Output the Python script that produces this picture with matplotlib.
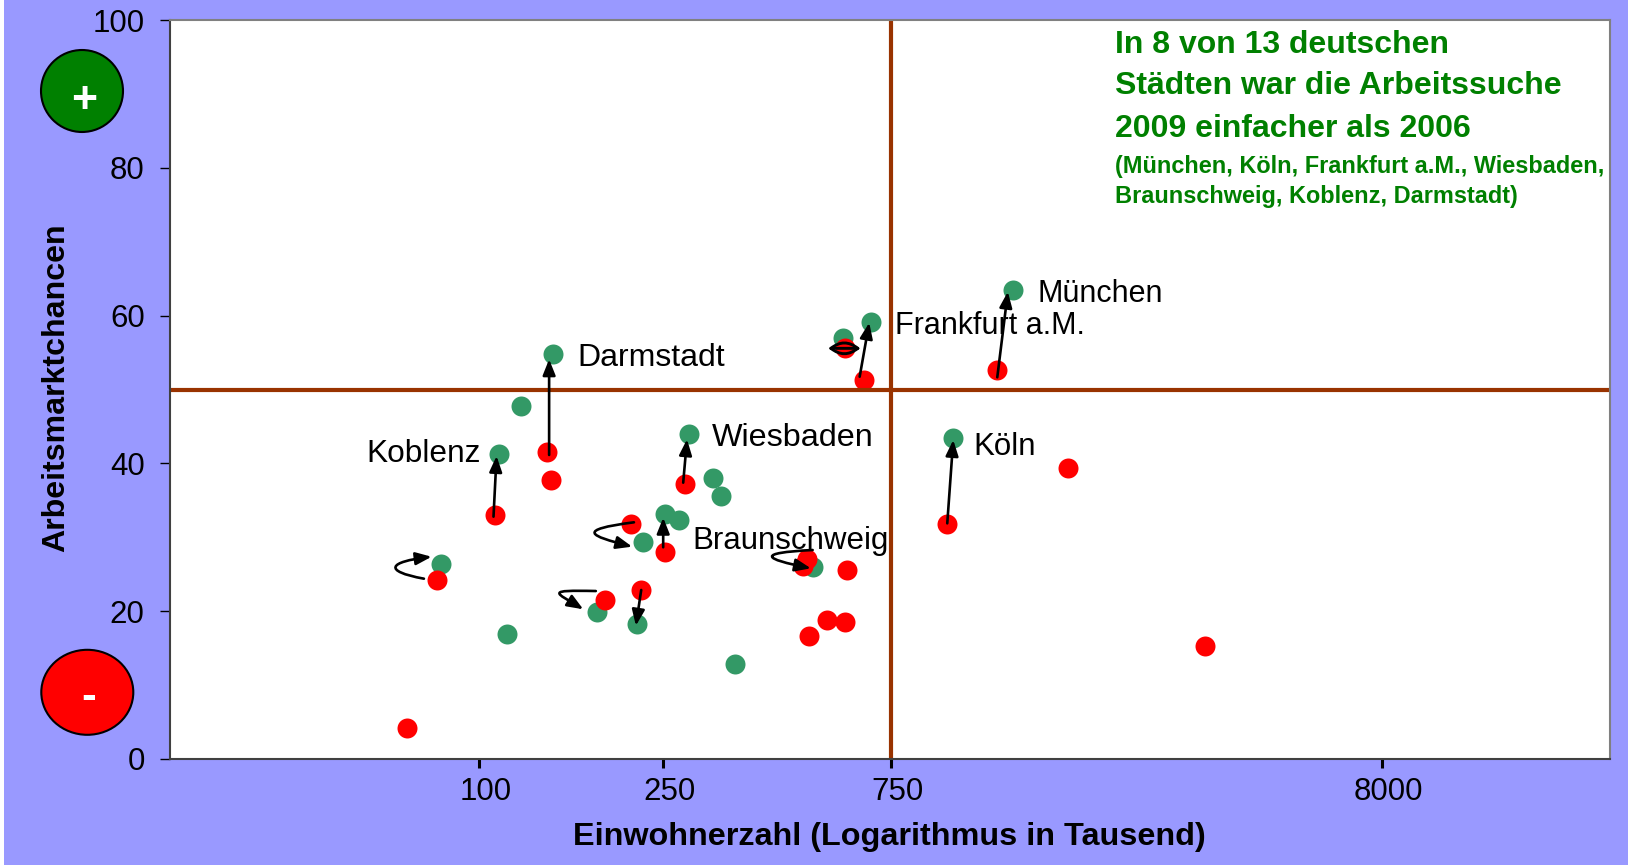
import matplotlib
matplotlib.use('Agg')
import matplotlib.pyplot as plt
from matplotlib.patches import Ellipse, Rectangle, FancyArrowPatch
from matplotlib.path import Path
from matplotlib.ticker import NullFormatter
from matplotlib.transforms import IdentityTransform, ScaledTranslation

plt.rcParams['font.family'] = ['Liberation Sans', 'DejaVu Sans']

# Einwohner in Tausend / Arbeitsmarktchancen
green_x = [143.1, 122.5, 110.1, 277, 311.2, 323.6, 246.1, 263.9, 221.5, 83.1,
           176.9, 214.8, 114.4, 346.3, 1335.5, 670.2, 584.9, 997.9, 505.8]
green_y = [54.76, 47.73, 41.23, 43.94, 37.98, 35.55, 33.11, 32.3, 29.32, 26.35,
           19.85, 18.23, 16.87, 12.81, 63.42, 59.09, 56.93, 43.4, 26.02]
red_x = [139, 141.7, 108, 271.6, 209, 246.5, 81.5, 184.2, 219.4, 70.4, 590.6,
         645.9, 1235.8, 969.4, 1740, 491.2, 481.8, 595.7, 541.2, 590.6, 496.1, 3396]
red_y = [41.5, 37.71, 33.06, 37.17, 31.76, 27.97, 24.18, 21.47, 22.83, 4.15, 55.57,
         51.24, 52.6, 31.76, 39.34, 27.06, 26.08, 25.53, 18.77, 18.5, 16.6, 15.29]

# Pfeile 2006 -> 2009
arrow_x0 = [107.1, 140.3, 269, 244.1, 219.4, 633.6, 1235.8, 969.4]
arrow_y0 = [32.79, 41.14, 37.39, 28.65, 22.87, 51.73, 51.65, 31.89]
arrow_x1 = [108.7, 140.3, 274, 244.1, 213.8, 663.7, 1301, 997.9]
arrow_y1 = [41.0, 54.09, 43.26, 32.65, 18.04, 59.04, 63.23, 43.17]

# gebogene Pfeile: Start, zwei Kontrollpunkte, Ende
curve_x0 = [76.4, 211.8, 176, 504.3]
curve_y0 = [24.4, 32.03, 22.73, 28.28]
curve_c1x = [62.3, 159, 137.4, 381]
curve_c1y = [25.44, 30.99, 22.87, 27.88]
curve_c2x = [64.5, 171, 144.3, 398]
curve_c2y = [26.7, 30.2, 22.6, 27.09]
curve_x1 = [79.3, 210, 165.6, 500]
curve_y1 = [27.37, 28.73, 20.26, 25.8]

lens_x = [628, 551]
lens_y = [55.57, 55.57]

x_ticks = [100, 244.1, 738.7, 8000]
x_tick_labels = ['100', '250', '750', '8000']
y_ticks = [0, 20, 40, 60, 80, 100]

W, H = 1628, 865


def fx(x):
    return x / W


def fy(y):
    return 1 - y / H


fig = plt.figure(figsize=(W / 100, H / 100), dpi=100, facecolor='#9999FF')
fig.add_artist(Rectangle((0, 0), 4, H, transform=IdentityTransform(), fc='white', ec='none'))

ax = fig.add_axes([fx(170), fy(759), (1610 - 170) / W, (759 - 20) / H])
ax.set_xscale('log')
ax.set_xlim(22.27, 24200)
ax.set_ylim(0, 100)

ax.scatter(green_x, green_y, s=207, c='#339966', linewidths=0, zorder=1)
ax.scatter(red_x, red_y, s=207, c='#FF0000', linewidths=0, zorder=1.1)

ax.axhline(50, color='#993300', lw=3, zorder=2)
ax.axvline(x_ticks[2], color='#993300', lw=3, zorder=2)

head = '-|>,head_length=0.95,head_width=0.38'
for x0, y0, x1, y1 in zip(arrow_x0, arrow_y0, arrow_x1, arrow_y1):
    ax.annotate('', xy=(x1, y1), xytext=(x0, y0), zorder=5,
                arrowprops=dict(arrowstyle=head, color='black', lw=1.9, mutation_scale=10,
                                shrinkA=0, shrinkB=0))
for i in range(len(curve_x0)):
    p = Path([(curve_x0[i], curve_y0[i]), (curve_c1x[i], curve_c1y[i]),
              (curve_c2x[i], curve_c2y[i]), (curve_x1[i], curve_y1[i])],
             [Path.MOVETO, Path.CURVE4, Path.CURVE4, Path.CURVE4])
    ax.add_patch(FancyArrowPatch(path=p, arrowstyle=head, color='black', lw=1.9,
                                 mutation_scale=10, zorder=5, transform=ax.transData))
# kleine Raute bei der Stadt ohne Veraenderung
for rad in [0.4, -0.4, 0]:
    ax.annotate('', xy=(lens_x[1], lens_y[1]), xytext=(lens_x[0], lens_y[0]), zorder=5,
                arrowprops=dict(arrowstyle='-', color='black', lw=2.1,
                                shrinkA=0, shrinkB=0, connectionstyle='arc3,rad=%s' % rad))

ax.set_xticks(x_ticks)
ax.set_xticklabels(x_tick_labels, fontsize=22.5)
ax.set_xticks(x_ticks, minor=True)
ax.xaxis.set_minor_formatter(NullFormatter())
ax.set_yticks(y_ticks)
ax.tick_params(axis='y', labelsize=22.5, length=7.2, width=1, pad=11, color='black')
ax.tick_params(axis='x', which='major', direction='out', length=6.5, width=2.2, pad=6.8, color='black')
ax.tick_params(axis='x', which='minor', direction='in', length=2.2, width=2.2, color='black')
for lab in ax.get_xticklabels():
    lab.set_transform(lab.get_transform() + ScaledTranslation(6 / 100, 0, fig.dpi_scale_trans))

ax.spines['left'].set_color('#404040')
ax.spines['bottom'].set_color('#404040')
ax.spines['top'].set_color('#808080')
ax.spines['right'].set_color('#808080')
for s in ax.spines.values():
    s.set_linewidth(1.5)

fig.text(fx(889), fy(845), 'Einwohnerzahl (Logarithmus in Tausend)', fontsize=23.3,
         fontweight='bold', ha='center', va='baseline')
fig.text(fx(56), fy(388), 'Arbeitsmarktchancen', fontsize=23.1, fontweight='bold',
         rotation=90, ha='center', va='center')

for name, x, y, size in [('Darmstadt', 577, 354, 23), ('Koblenz', 366, 451, 22.8),
                         ('Wiesbaden', 712, 435, 23.3), ('Braunschweig', 692, 537, 22.5),
                         ('Köln', 973, 444, 22.5), ('München', 1037, 291, 22),
                         ('Frankfurt a.M.', 895, 323, 22)]:
    fig.text(fx(x), fy(y), name, fontsize=size, ha='left', va='center_baseline', zorder=4)

for txt, base, size in [('In 8 von 13 deutschen', 53, 23),
                        ('Städten war die Arbeitssuche', 94, 23),
                        ('2009 einfacher als 2006', 137, 23),
                        ('(München, Köln, Frankfurt a.M., Wiesbaden,', 173, 16.9),
                        ('Braunschweig, Koblenz, Darmstadt)', 203, 16.9)]:
    fig.text(fx(1115), fy(base), txt, fontsize=size, fontweight='bold', color='#008000',
             ha='left', va='baseline')

fig.add_artist(Ellipse((82, H - 91), 82, 82, transform=IdentityTransform(),
                       fc='#008000', ec='black', lw=1.5))
fig.add_artist(Ellipse((87.3, H - 692.3), 92, 85, transform=IdentityTransform(),
                       fc='#FF0000', ec='black', lw=1.5))
fig.text(fx(84.3), fy(113), '+', color='white', fontsize=32, fontweight='bold', ha='center', va='baseline')
fig.text(fx(88.5), fy(709), '-', color='white', fontsize=32, fontweight='bold', ha='center', va='baseline')

fig.savefig('out.png', dpi=100, facecolor=fig.get_facecolor())
